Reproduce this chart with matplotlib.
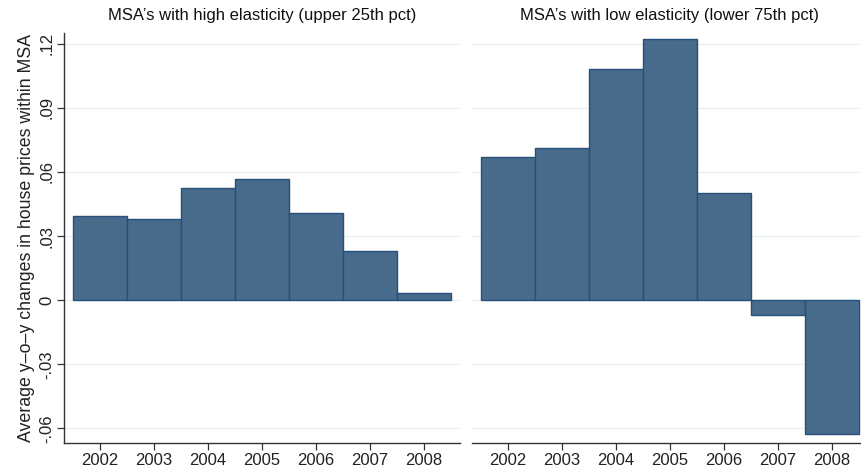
import numpy as np
import matplotlib
matplotlib.use("Agg")
import matplotlib.pyplot as plt

plt.rcParams['font.family'] = ['Liberation Sans', 'DejaVu Sans']

years = [2002, 2003, 2004, 2005, 2006, 2007, 2008]
high_elast = [0.0393, 0.0379, 0.0523, 0.0565, 0.0408, 0.0228, 0.0034]
low_elast = [0.0670, 0.0712, 0.1083, 0.1224, 0.0503, -0.0070, -0.0628]
titles = ["MSA\u2019s with high elasticity (upper 25th pct)",
          "MSA\u2019s with low elasticity (lower 75th pct)"]
yticks = [-0.06, -0.03, 0, 0.03, 0.06, 0.09, 0.12]
ytick_labels = ["-.06", "-.03", "0", ".03", ".06", ".09", ".12"]
ylabel = "Average y\u2013o\u2013y changes in house prices within MSA"

W, H = 862, 473
fig = plt.figure(figsize=(W / 100, H / 100), dpi=100)
fill = "#486b8b"
edge = "#24507a"
grid = "#e8f0f1"


def px_axes(x0, y_top, x1, y_bot):
    return fig.add_axes([x0 / W, (H - y_bot) / H, (x1 - x0) / W, (y_bot - y_top) / H])


ax1 = px_axes(64, 33, 460, 443)
ax2 = px_axes(472, 33, 868, 443)

for ax, vals, title in [(ax1, high_elast, titles[0]), (ax2, low_elast, titles[1])]:
    ax.bar(years, vals, width=1.0, color=fill, edgecolor=edge, linewidth=1.0, zorder=3)
    ax.set_xlim(2001.333, 2008.667)
    ax.set_ylim(-0.0668, 0.125)
    ax.set_yticks(yticks)
    for y in yticks:
        ax.axhline(y, color=grid, lw=1.0, zorder=1)
    ax.set_xticks(years)
    ax.set_xticklabels([str(y) for y in years], fontsize=12, color="#222222")
    ax.tick_params(axis='x', length=5, width=0.9, color="#333333", pad=2)
    for s in ['top', 'right']:
        ax.spines[s].set_visible(False)
    ax.spines['bottom'].set_color("#333333")
    ax.spines['bottom'].set_linewidth(1.0)
    ax.set_title(title, fontsize=12, pad=9, color="#111111")

ax1.set_yticklabels(ytick_labels, rotation=90, va='center', fontsize=12, color="#222222")
ax1.tick_params(axis='y', length=5, width=0.9, color="#333333", pad=2)
ax1.spines['left'].set_color("#333333")
ax1.spines['left'].set_linewidth(1.0)
ax1.set_ylabel(ylabel, fontsize=12.8, labelpad=3, color="#222222")

ax2.spines['left'].set_visible(False)
ax2.tick_params(axis='y', left=False, labelleft=False)

fig.savefig("out.png", dpi=100)
